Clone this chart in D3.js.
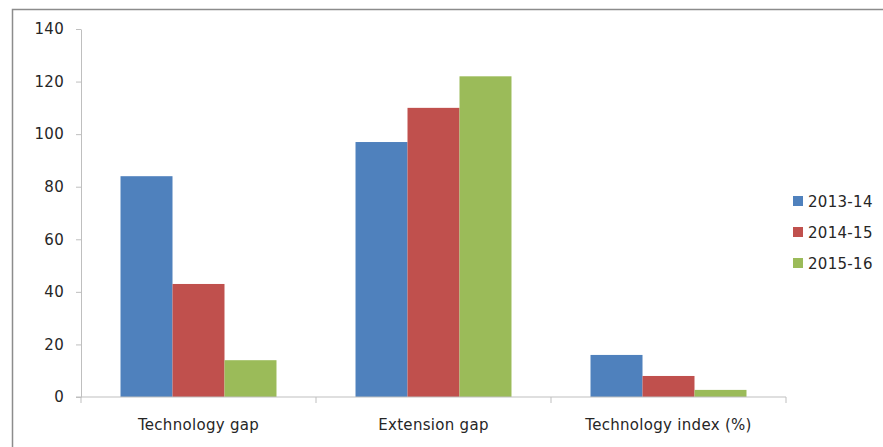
<!DOCTYPE html>
<meta charset="utf-8">
<style>
  body { margin: 0; background: white; }
  text { font-family: "DejaVu Sans", "Open Sans", sans-serif; fill: #262626; letter-spacing: 0.3px; }
</style>
<script src="https://d3js.org/d3.v7.min.js"></script>
<body>
<div id="chart"></div>
<script>
  // chart data
  const categories = ["Technology gap", "Extension gap", "Technology index (%)"];
  const years = ["2013-14", "2014-15", "2015-16"];
  const values2013 = [84, 97, 16];
  const values2014 = [43, 110, 8];
  const values2015 = [14, 122, 2.7];
  const yTicks = [0, 20, 40, 60, 80, 100, 120, 140];
  const colors = ["#4f81bd", "#c0504d", "#9bbb59"];

  const series = [values2013, values2014, values2015];

  const width = 883, height = 447;
  const margin = {top: 29, right: 97, bottom: 50, left: 81};

  const svg = d3.select("#chart")
    .append("svg")
      .attr("width", width)
      .attr("height", height);

  // outer chart border (only top and left are inside the picture)
  svg.append("path")
    .attr("d", "M12.5," + height + "V9.5H" + width)
    .attr("fill", "none")
    .attr("stroke", "#8c8c8c")
    .attr("stroke-width", 1.5);

  const x = d3.scaleBand()
    .domain(categories)
    .range([margin.left, width - margin.right])
    .paddingInner(0)
    .paddingOuter(0);

  // three bars take 156 of each 235px category slot
  const xInner = d3.scaleBand()
    .domain(years)
    .range([0, x.bandwidth()])
    .paddingInner(0)
    .paddingOuter(0.76);

  const y = d3.scaleLinear()
    .domain([0, 140])
    .range([height - margin.bottom, margin.top]);

  // bars
  const groups = svg.selectAll("g.cat")
    .data(categories)
    .enter()
    .append("g")
      .attr("class", "cat")
      .attr("transform", d => "translate(" + x(d) + ",0)");

  groups.selectAll("rect")
    .data((d, i) => years.map((yr, j) => ({year: yr, value: series[j][i], j: j})))
    .enter()
    .append("rect")
      .attr("x", d => xInner(d.year))
      .attr("y", d => y(d.value))
      .attr("width", xInner.bandwidth())
      .attr("height", d => y(0) - y(d.value))
      .attr("fill", d => colors[d.j]);

  // y axis
  const yAxis = svg.append("g")
    .attr("transform", "translate(" + margin.left + ",0)")
    .call(d3.axisLeft(y).tickValues(yTicks).tickSize(5).tickPadding(12).tickSizeOuter(0));
  yAxis.select(".domain").attr("stroke", "#bfbfbf");
  yAxis.selectAll(".tick line").attr("stroke", "#bfbfbf");
  yAxis.selectAll(".tick text").style("font-size", "15px").attr("fill", "#262626");

  // x axis with ticks between categories
  const xAxis = svg.append("g")
    .attr("transform", "translate(0," + y(0) + ")");
  xAxis.append("line")
    .attr("x1", margin.left - 5)
    .attr("x2", width - margin.right)
    .attr("stroke", "#bfbfbf");
  const bounds = categories.map(c => x(c)).concat([x(categories[categories.length - 1]) + x.bandwidth()]);
  xAxis.selectAll("line.tk")
    .data(bounds)
    .enter()
    .append("line")
      .attr("class", "tk")
      .attr("x1", d => d).attr("x2", d => d)
      .attr("y1", 0).attr("y2", 6)
      .attr("stroke", "#bfbfbf");
  xAxis.selectAll("text")
    .data(categories)
    .enter()
    .append("text")
      .attr("x", d => x(d) + x.bandwidth() / 2)
      .attr("y", 33)
      .attr("text-anchor", "middle")
      .style("font-size", "15px")
      .text(d => d);

  // legend
  const legend = svg.append("g")
    .attr("transform", "translate(793,201)");
  const items = legend.selectAll("g")
    .data(years)
    .enter()
    .append("g")
      .attr("transform", (d, i) => "translate(0," + i * 31 + ")");
  items.append("rect")
    .attr("x", 0).attr("y", -5)
    .attr("width", 10).attr("height", 10)
    .attr("fill", (d, i) => colors[i]);
  items.append("text")
    .attr("x", 15)
    .attr("y", 5.5)
    .style("font-size", "15px")
    .text(d => d);
</script>
</body>
